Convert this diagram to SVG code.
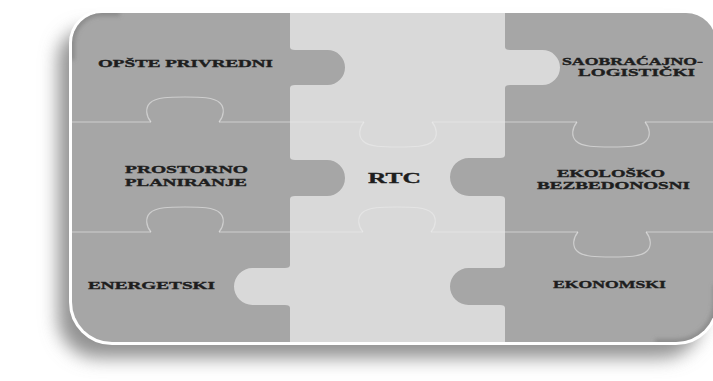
<svg xmlns="http://www.w3.org/2000/svg" width="713" height="381" viewBox="0 0 713 381">
  <style>
    .dark { fill: #a6a6a6; }
    .light { fill: #d9d9d9; }
    .lbl { font-family: "Liberation Serif", "Times New Roman", serif; font-weight: bold; fill: #1e1e1e; stroke: #1e1e1e; stroke-width: 0.35; }
    .seam { fill: none; stroke: #ffffff; stroke-opacity: 0.45; stroke-width: 1.2; }
    .seam-soft { stroke-opacity: 0.3; }
  </style>
  <defs>
    <!-- outer outline of the rounded board -->
    <path id="board" d="M72,43 A30,30 0 0 1 102,13 H686 A30,30 0 0 1 716,43 V302 A40,40 0 0 1 676,342 H112 A40,40 0 0 1 72,302 Z"/>
    <clipPath id="boardClip"><use href="#board"/></clipPath>
    <filter id="soft" x="-20%" y="-20%" width="140%" height="140%">
      <feGaussianBlur stdDeviation="9"/>
    </filter>
    <filter id="edgeBlur" x="-20%" y="-20%" width="140%" height="140%">
      <feGaussianBlur stdDeviation="2"/>
    </filter>
    <!-- arched seam bump, base on y=0, rising 25px -->
    <path id="bump" d="M-34,0 C-39,-6 -40,-14 -35,-19 C-29,-25 -15,-25 0,-25 C15,-25 29,-25 35,-19 C40,-14 39,-6 34,0"/>
  </defs>

  <!-- drop shadow under the board -->
  <use href="#board" fill="#929292" transform="translate(-14,16)" filter="url(#soft)"/>
  <!-- white rim -->
  <use href="#board" fill="#ffffff" stroke="#ffffff" stroke-width="6"/>

  <g clip-path="url(#boardClip)">
    <!-- puzzle pieces, drawn so that each tab overlaps its neighbour -->
    <g id="piece-saobracajno">
      <rect class="dark" x="505" y="13" width="215" height="109"/>
      <text class="lbl" font-size="10.5" x="562" y="65" textLength="141" lengthAdjust="spacingAndGlyphs">SAOBRAĆAJNO-</text>
      <text class="lbl" font-size="10.5" x="578" y="76" textLength="117" lengthAdjust="spacingAndGlyphs">LOGISTIČKI</text>
    </g>
    <g id="piece-rtc-top">
      <rect class="light" x="290" y="13" width="215" height="109"/>
      <path class="light" d="M505,47 Q505,50 510,50 H542.5 A17.5,17.5 0 0 1 542.5,85 H510 Q505,85 505,88 Z"/>
    </g>
    <g id="piece-opste">
      <rect class="dark" x="72" y="13" width="218" height="109"/>
      <path class="dark" d="M290,47 Q290,50 295,50 H327.5 A17.5,17.5 0 0 1 327.5,85 H295 Q290,85 290,88 Z"/>
      <text class="lbl" font-size="10.5" x="98" y="67" textLength="175" lengthAdjust="spacingAndGlyphs">OPŠTE PRIVREDNI</text>
    </g>
    <g id="piece-energetski">
      <rect class="dark" x="72" y="232" width="218" height="110"/>
      <text class="lbl" font-size="11" x="88" y="289" textLength="127" lengthAdjust="spacingAndGlyphs">ENERGETSKI</text>
    </g>
    <g id="piece-rtc">
      <rect class="light" x="290" y="122" width="215" height="110"/>
      <text class="lbl" font-size="15" x="368" y="183" textLength="53" lengthAdjust="spacingAndGlyphs">RTC</text>
    </g>
    <g id="piece-rtc-bottom">
      <rect class="light" x="290" y="232" width="215" height="110"/>
      <path class="light" d="M290,265 Q290,268 285,268 H252.5 A18.5,18.5 0 0 0 252.5,305 H285 Q290,305 290,308 Z"/>
    </g>
    <g id="piece-prostorno">
      <rect class="dark" x="72" y="122" width="218" height="110"/>
      <path class="dark" d="M290,157 Q290,160 295,160 H327 A18,18 0 0 1 327,196 H295 Q290,196 290,199 Z"/>
      <text class="lbl" font-size="10.5" x="125" y="173" textLength="123" lengthAdjust="spacingAndGlyphs">PROSTORNO</text>
      <text class="lbl" font-size="10.5" x="125" y="186" textLength="122" lengthAdjust="spacingAndGlyphs">PLANIRANJE</text>
    </g>
    <g id="piece-ekolosko">
      <rect class="dark" x="505" y="122" width="215" height="110"/>
      <path class="dark" d="M505,155 Q505,158 500,158 H469 A19,19 0 0 0 469,196 H500 Q505,196 505,199 Z"/>
      <text class="lbl" font-size="10.5" x="557" y="177" textLength="108" lengthAdjust="spacingAndGlyphs">EKOLOŠKO</text>
      <text class="lbl" font-size="10.5" x="537" y="189" textLength="153" lengthAdjust="spacingAndGlyphs">BEZBEDONOSNI</text>
    </g>
    <g id="piece-ekonomski">
      <rect class="dark" x="505" y="232" width="215" height="110"/>
      <path class="dark" d="M505,265 Q505,268 500,268 H468.5 A18.5,18.5 0 0 0 468.5,305 H500 Q505,305 505,308 Z"/>
      <text class="lbl" font-size="11" x="553" y="288" textLength="113" lengthAdjust="spacingAndGlyphs">EKONOMSKI</text>
    </g>

    <!-- seams between stacked pieces -->
    <g id="seams" class="seam">
      <path d="M72,122 H151 M219,122 H290 M505,122 H577 M645,122 H720"/>
      <path d="M72,232 H151 M219,232 H290 M505,232 H578 M646,232 H720"/>
      <path class="seam-soft" d="M290,122 H364 M432,122 H505 M290,232 H363 M431,232 H505"/>
      <use href="#bump" transform="translate(185,122)"/>
      <use class="seam-soft" href="#bump" transform="translate(398,122) scale(1,-1)"/>
      <use href="#bump" transform="translate(611,122) scale(1,-1)"/>
      <use href="#bump" transform="translate(185,232)"/>
      <use class="seam-soft" href="#bump" transform="translate(397,232)"/>
      <use href="#bump" transform="translate(612,232) scale(1,-1)"/>
    </g>

    <!-- bevel shading on the rounded corners -->
    <path d="M72,60 V43 A30,30 0 0 1 102,13 H120" fill="none" stroke="#6f6f6f" stroke-opacity="0.5" stroke-width="6" filter="url(#edgeBlur)"/>
    <path d="M716,285 V302 A40,40 0 0 1 676,342 H655" fill="none" stroke="#6f6f6f" stroke-opacity="0.5" stroke-width="6" filter="url(#edgeBlur)"/>
  </g>
</svg>
